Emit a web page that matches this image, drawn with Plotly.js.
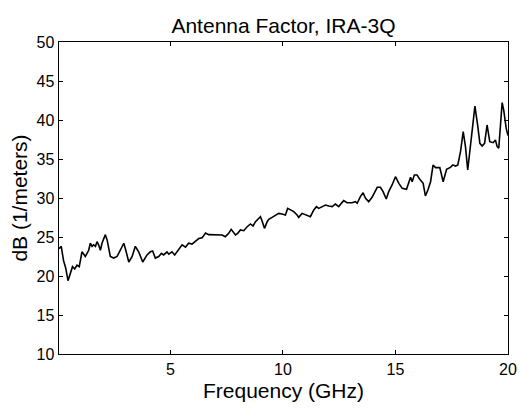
<!DOCTYPE html>
<html>
<head>
<meta charset="utf-8">
<script src="https://cdn.plot.ly/plotly-3.0.1.min.js"></script>
<style>
  html, body { margin: 0; padding: 0; background: #fff; }
  #chart { width: 521px; height: 409px; }
</style>
</head>
<body>
<div id="chart"></div>
<script>
const chartTitle = "Antenna Factor, IRA-3Q";
const xLabel = "Frequency (GHz)";
const yLabel = "dB (1/meters)";
const xTicks = [5, 10, 15, 20];
const yTicks = [10, 15, 20, 25, 30, 35, 40, 45, 50];

const freqGHz = [
  0.05, 0.15, 0.25, 0.35, 0.45, 0.55, 0.65, 0.75, 0.85, 0.95,
  1.07, 1.22, 1.37, 1.44, 1.52, 1.59, 1.67, 1.74, 1.81, 1.89,
  1.96, 2.11, 2.19, 2.33, 2.48, 2.63, 2.78, 2.93, 3.0, 3.15,
  3.30, 3.44, 3.59, 3.77, 3.96, 4.11, 4.21, 4.33, 4.48, 4.60,
  4.70, 4.85, 4.93, 5.07, 5.19, 5.37, 5.52, 5.67, 5.81, 5.96,
  6.11, 6.26, 6.41, 6.56, 6.70, 6.85, 7.0, 7.15, 7.30, 7.44,
  7.59, 7.70, 7.81, 7.89, 7.99, 8.11, 8.26, 8.41, 8.56, 8.67,
  8.78, 8.88, 9.0, 9.07, 9.18, 9.30, 9.37, 9.52, 9.67, 9.81,
  9.96, 10.11, 10.21, 10.33, 10.48, 10.63, 10.70, 10.85, 11.0, 11.22,
  11.37, 11.49, 11.59, 11.7, 11.89, 12.04, 12.19, 12.33, 12.48, 12.56,
  12.70, 12.85, 13.07, 13.22, 13.30, 13.44, 13.56, 13.67, 13.81, 13.96,
  14.19, 14.33, 14.45, 14.59, 14.70, 14.85, 15.0, 15.15, 15.3, 15.49,
  15.67, 15.74, 15.84, 15.96, 16.08, 16.23, 16.33, 16.44, 16.56, 16.67,
  16.78, 16.97, 17.12, 17.27, 17.44, 17.55, 17.67, 17.77, 17.89, 18.01,
  18.11, 18.21, 18.36, 18.53, 18.66, 18.75, 18.85, 18.96, 19.07, 19.19,
  19.34, 19.44, 19.52, 19.59, 19.74, 19.81, 19.92, 20.0
];

const antennaFactorDb = [
  23.5, 23.8, 22.0, 21.0, 19.4, 20.3, 21.2, 20.9, 21.4, 21.2,
  23.1, 22.5, 23.3, 24.2, 23.8, 24.0, 23.8, 24.4, 24.0, 23.3,
  24.2, 25.3, 24.6, 22.5, 22.3, 22.5, 23.3, 24.2, 23.5, 21.8,
  22.5, 23.8, 23.1, 21.8, 22.7, 23.1, 23.2, 22.3, 22.5, 22.9,
  22.7, 23.1, 22.8, 23.1, 22.7, 23.4, 24.0, 23.7, 24.2, 24.1,
  24.4, 24.8, 24.9, 25.5, 25.3, 25.3, 25.3, 25.26, 25.26, 25.04,
  25.47, 25.98, 25.47, 25.26, 25.47, 25.9, 25.81, 26.32, 26.67, 26.41,
  26.96, 27.26, 27.6, 27.09, 26.11, 26.96, 27.26, 27.52, 27.82, 28.03,
  27.95, 27.82, 28.67, 28.46, 28.25, 27.82, 27.52, 28.03, 27.82, 27.6,
  28.46, 28.89, 28.67, 28.8, 29.1, 28.97, 28.89, 29.23, 28.89, 29.2,
  29.66, 29.4, 29.4, 29.53, 29.32, 30.17, 30.68, 29.96, 29.53, 30.09,
  31.37, 31.37, 30.81, 29.87, 30.81, 31.67, 32.73, 31.88, 31.24, 31.11,
  32.65, 32.09, 32.95, 32.95, 32.39, 31.88, 30.26, 31.03, 32.09, 34.23,
  33.89, 33.89, 32.09, 33.68, 33.93, 34.23, 34.10, 34.23, 35.94, 38.5,
  36.58, 33.59, 37.86, 41.79, 39.15, 37.01, 36.67, 37.01, 39.36, 37.22,
  37.09, 37.44, 36.58, 36.37, 42.22, 41.28, 38.93, 38.0
];

const trace = {
  x: freqGHz,
  y: antennaFactorDb,
  type: 'scatter',
  mode: 'lines',
  line: { color: '#000000', width: 1.6 },
  hoverinfo: 'skip'
};

const fontFamily = 'Arial, "Liberation Sans", Helvetica, sans-serif';

const layout = {
  width: 521,
  height: 409,
  margin: { l: 59, r: 13, t: 42, b: 55, pad: 0 },
  paper_bgcolor: '#ffffff',
  plot_bgcolor: '#ffffff',
  showlegend: false,
  font: { family: fontFamily, color: '#000000', size: 16 },
  title: {
    text: chartTitle,
    font: { family: fontFamily, size: 21, color: '#000000' },
    x: 0.5, xref: 'paper', xanchor: 'center',
    y: 1, yref: 'paper', yanchor: 'bottom',
    pad: { b: 9 }
  },
  xaxis: {
    range: [0.05, 20],
    tickvals: xTicks,
    ticktext: xTicks.map(String),
    ticks: 'inside',
    ticklen: 4,
    tickwidth: 1,
    tickcolor: '#000000',
    showline: true,
    linecolor: '#000000',
    linewidth: 1.4,
    mirror: 'ticks',
    showgrid: false,
    zeroline: false,
    tickfont: { family: fontFamily, size: 16, color: '#000000' },
    title: { text: xLabel, font: { family: fontFamily, size: 21, color: '#000000' }, standoff: 6 }
  },
  yaxis: {
    range: [10, 50],
    tickvals: yTicks,
    ticktext: yTicks.map(String),
    ticks: 'inside',
    ticklen: 4,
    tickwidth: 1,
    tickcolor: '#000000',
    showline: true,
    linecolor: '#000000',
    linewidth: 1.4,
    mirror: 'ticks',
    showgrid: false,
    zeroline: false,
    tickfont: { family: fontFamily, size: 16, color: '#000000' },
    title: { text: yLabel, font: { family: fontFamily, size: 21, color: '#000000' }, standoff: 3 }
  }
};

Plotly.newPlot('chart', [trace], layout, { staticPlot: true, displayModeBar: false });
</script>
</body>
</html>
